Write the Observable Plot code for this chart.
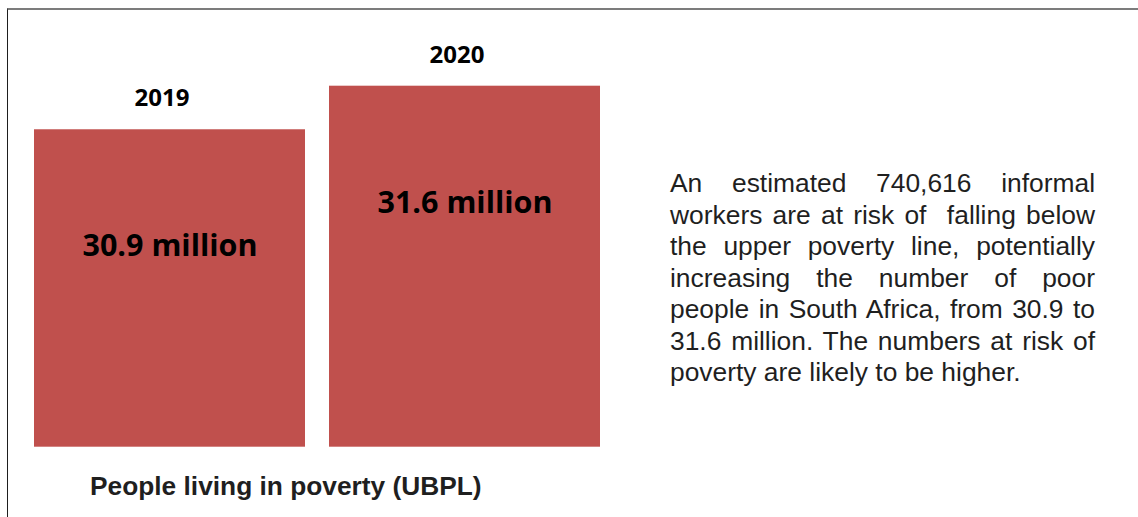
<!DOCTYPE html>
<html>
<head>
<meta charset="utf-8">
<script src="https://cdn.jsdelivr.net/npm/d3@7"></script>
<script src="https://cdn.jsdelivr.net/npm/@observablehq/plot@0.6"></script>
<style>
  html, body { margin: 0; padding: 0; background: #fff; }
  #page { position: relative; width: 1138px; height: 517px; overflow: hidden; background: #fff; }
  #frame { position: absolute; left: 7px; top: 8px; width: 1140px; height: 520px;
           border-top: 2px solid #7c7c7c; border-left: 1.5px solid #1e1e1e; box-sizing: border-box; z-index: 2; }
  #chart { position: absolute; left: 0; top: 0; }
  #caption { position: absolute; left: 90px; top: 471px; line-height: 30px; white-space: nowrap;
             font-family: "Liberation Sans", Arial, sans-serif; font-weight: bold; font-size: 26.3px; color: #1f1f1f; }
  #note { position: absolute; left: 670px; top: 168px; width: 425px;
          font-family: "Liberation Sans", Arial, sans-serif; font-size: 26.4px; line-height: 31.5px; color: #1f1f1f; }
  #note .j { text-align: justify; text-align-last: justify; white-space: nowrap; }
  #note .l { text-align: left; white-space: nowrap; }
</style>
</head>
<body>
<div id="page">
  <div id="chart"></div>
  <div id="frame"></div>
  <div id="caption"></div>
  <div id="note"></div>
</div>
<script>
// ---- data ----
const years = ["2019", "2020"];
const values = [30.9, 31.6];
const valueLabels = ["30.9 million", "31.6 million"];
const captionText = "People living in poverty (UBPL)";
const noteLines = [
  "An estimated 740,616 informal",
  "workers are at risk of\u00a0 falling below",
  "the upper poverty line, potentially",
  "increasing the number of poor",
  "people in South Africa, from 30.9 to",
  "31.6 million. The numbers at risk of",
  "poverty are likely to be higher."
];

const rows = years.map((y, i) => ({year: y, value: values[i], label: valueLabels[i]}));
const yDomain = [25.8, 31.6];

const chart = Plot.plot({
  width: 640,
  height: 517,
  marginLeft: 34,
  marginRight: 40,
  marginTop: 0,
  marginBottom: 0,
  x: {domain: years, paddingInner: 0.0814, paddingOuter: 0, axis: null},
  y: {domain: yDomain, range: [446.7, 85.7], axis: null},
  style: {background: "transparent"},
  marks: [
    Plot.barY(rows, {x: "year", y1: yDomain[0], y2: "value", fill: "#C0504D", inset: 0}),
    Plot.text(rows, {x: "year", y: "value", text: "label", lineAnchor: "bottom", dy: 126.5,
      fontFamily: "'Open Sans', sans-serif", fontWeight: 700, fontSize: 30.5, fill: "#000"}),
    Plot.text(rows, {x: "year", y: "value", text: "year", lineAnchor: "bottom", dy: -23.5, dx: -8,
      fontFamily: "'Open Sans', sans-serif", fontWeight: 700, fontSize: 24, fill: "#000"})
  ]
});
document.getElementById("chart").appendChild(chart);

document.getElementById("caption").textContent = captionText;
const note = document.getElementById("note");
noteLines.forEach((t, i) => {
  const d = document.createElement("div");
  d.className = i < noteLines.length - 1 ? "j" : "l";
  d.textContent = t;
  note.appendChild(d);
});
</script>
</body>
</html>
